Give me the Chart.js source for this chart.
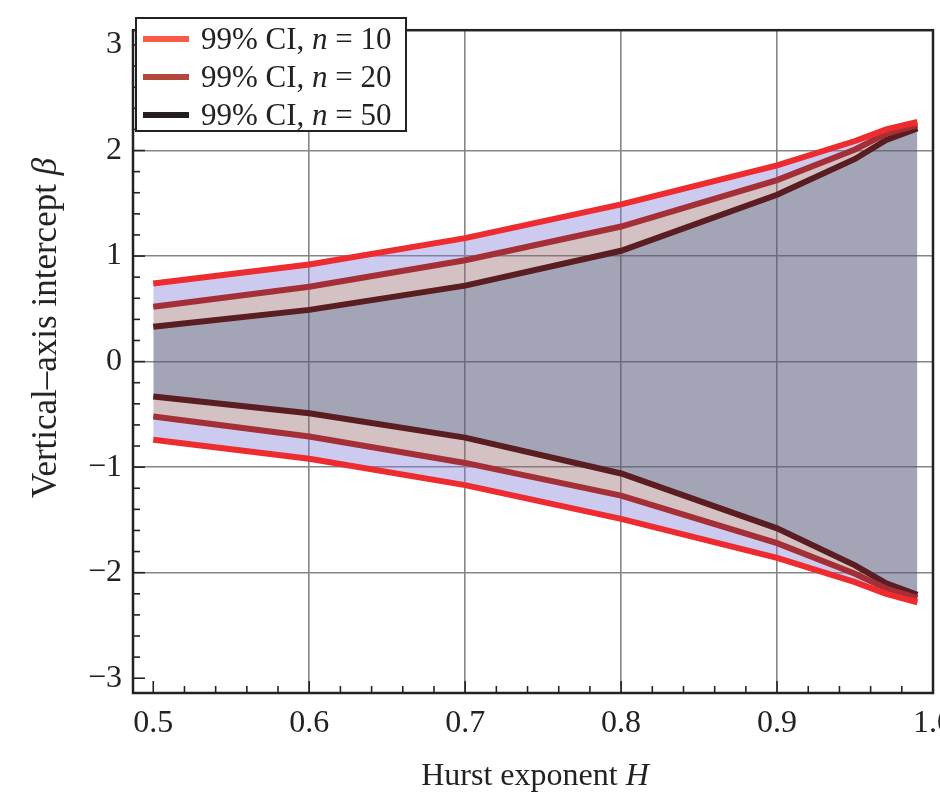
<!DOCTYPE html>
<html>
<head>
<meta charset="utf-8">
<script src="https://cdn.jsdelivr.net/npm/chart.js@4"></script>
<style>
  html, body { margin: 0; padding: 0; background: #fff; overflow: hidden; }
  #wrap { position: absolute; left: 0; top: 0; width: 964px; height: 797px; }
  .serif { font-family: "Liberation Serif", "DejaVu Serif", serif; color: #222; }
  #legend { position: absolute; left: 135px; top: 17px; width: 272px; height: 115px;
            border: 2px solid #222; background: #fff; box-sizing: border-box; }
  .row { position: absolute; left: 0; height: 36px; display: flex; align-items: center; font-size: 31px; }
  .swatch { width: 46px; height: 6px; margin-left: 6px; margin-right: 12px; }
  #xtitle { position: absolute; left: 535px; top: 756px; transform: translateX(-50%); font-size: 32px; white-space: nowrap; }
  #ytitle { position: absolute; left: 45px; top: 328px; transform: translate(-50%, -50%) rotate(-90deg);
            font-size: 35px; white-space: nowrap; }
</style>
</head>
<body>
<div id="wrap"><canvas id="ciChart"></canvas></div>
<div id="legend" class="serif"></div>
<div id="xtitle" class="serif">Hurst exponent <i>H</i></div>
<div id="ytitle" class="serif">Vertical–axis intercept <i>β</i></div>
<script>
// Hurst exponent values
const hurst = [0.5, 0.6, 0.7, 0.8, 0.9, 0.95, 0.97, 0.99];

// upper / lower 99% CI limits for beta
const upper10 = [0.74, 0.92, 1.17, 1.49, 1.86, 2.09, 2.20, 2.27];
const lower10 = [-0.74, -0.92, -1.17, -1.49, -1.86, -2.09, -2.20, -2.28];
const upper20 = [0.52, 0.71, 0.96, 1.28, 1.72, 2.01, 2.16, 2.24];
const lower20 = [-0.52, -0.71, -0.96, -1.27, -1.72, -2.01, -2.15, -2.24];
const upper50 = [0.33, 0.49, 0.72, 1.05, 1.58, 1.92, 2.10, 2.21];
const lower50 = [-0.33, -0.49, -0.72, -1.06, -1.58, -1.93, -2.10, -2.21];

const seriesLabels = ['10', '20', '50'];
const xTicks = [0.5, 0.6, 0.7, 0.8, 0.9, 1.0];
const yTicks = [-3, -2, -1, 0, 1, 2, 3];

const lineColors = ['#ee2b2f', '#a52f37', '#5a1d21'];
const legendColors = ['#f75a45', '#b4483c', '#231f1f'];

function pts(ys) {
  return hurst.map((h, i) => ({ x: h, y: ys[i] }));
}

// html legend (needs italic n)
const legendEl = document.getElementById('legend');
seriesLabels.forEach((n, i) => {
  const row = document.createElement('div');
  row.className = 'row';
  row.style.top = (2 + i * 38) + 'px';
  row.innerHTML = '<div class="swatch" style="background:' + legendColors[i] + '"></div>' +
    '<span>99% CI, <i>n</i> = ' + n + '</span>';
  legendEl.appendChild(row);
});

function lineDs(data, color, fill, bg) {
  return {
    data: pts(data),
    borderColor: color,
    borderWidth: 6,
    pointRadius: 0,
    tension: 0,
    fill: fill,
    backgroundColor: bg
  };
}

const lavender = 'rgba(128, 126, 214, 0.4)';
const rose = 'rgba(147, 100, 106, 0.4)';
const slate = 'rgba(90, 89, 124, 0.55)';

// minor ticks + frame drawn with the scales
const frameTicks = {
  id: 'frameTicks',
  afterDraw(chart) {
    const { ctx, chartArea: a, scales: { x, y } } = chart;
    ctx.save();
    ctx.strokeStyle = '#222';
    ctx.lineWidth = 1.6;
    for (let k = 0; k <= 25; k++) {
      const v = 0.5 + k * 0.02;
      const px = x.getPixelForValue(v);
      const len = k % 5 === 0 ? 12 : 7;
      ctx.beginPath();
      ctx.moveTo(px, a.bottom);
      ctx.lineTo(px, a.bottom - len);
      ctx.stroke();
    }
    for (let k = 0; k <= 30; k++) {
      const v = -3 + k * 0.2;
      const py = y.getPixelForValue(v);
      const len = k % 5 === 0 ? 12 : 7;
      ctx.beginPath();
      ctx.moveTo(a.left, py);
      ctx.lineTo(a.left + len, py);
      ctx.stroke();
    }
    ctx.lineWidth = 2.5;
    ctx.strokeRect(a.left, a.top, a.right - a.left, a.bottom - a.top);
    ctx.restore();
  }
};

const ctx = document.getElementById('ciChart').getContext('2d');
new Chart(ctx, {
  type: 'line',
  data: {
    datasets: [
      lineDs(upper10, lineColors[0], { target: 2 }, lavender),
      lineDs(lower10, lineColors[0], { target: 3 }, lavender),
      lineDs(upper20, lineColors[1], { target: 4 }, rose),
      lineDs(lower20, lineColors[1], { target: 5 }, rose),
      lineDs(upper50, lineColors[2], { target: 5 }, slate),
      lineDs(lower50, lineColors[2], false, slate)
    ]
  },
  options: {
    responsive: true,
    maintainAspectRatio: false,
    animation: false,
    layout: { padding: { top: 14, left: 0, bottom: 0, right: 0 } },
    plugins: {
      legend: { display: false },
      tooltip: { enabled: false },
      filler: { drawTime: 'beforeDatasetsDraw' }
    },
    scales: {
      x: {
        type: 'linear',
        min: 0.487,
        max: 1.0,
        afterBuildTicks: s => { s.ticks = xTicks.map(v => ({ value: v })); },
        afterFit: s => { s.height = 104; },
        ticks: {
          font: { family: 'Liberation Serif', size: 32 },
          color: '#222',
          padding: 11,
          maxRotation: 0,
          callback: v => v.toFixed(1)
        },
        grid: {
          drawTicks: false,
          lineWidth: 1.6,
          color: c => (c.tick && c.tick.value > 0.55 && c.tick.value < 0.95) ? '#858585' : 'rgba(0,0,0,0)'
        },
        border: { display: false }
      },
      y: {
        type: 'linear',
        min: -3.14,
        max: 3.14,
        afterBuildTicks: s => { s.ticks = yTicks.map(v => ({ value: v })); },
        afterFit: s => { s.width = 133; },
        ticks: {
          font: { family: 'Liberation Serif', size: 32 },
          color: '#222',
          padding: 11,
          callback: v => v < 0 ? '\u2212' + Math.abs(v) : String(v)
        },
        grid: {
          drawTicks: false,
          lineWidth: 1.6,
          color: c => (c.tick && Math.abs(c.tick.value) < 2.5) ? '#858585' : 'rgba(0,0,0,0)'
        },
        border: { display: false }
      }
    }
  },
  plugins: [frameTicks]
});
</script>
</body>
</html>
